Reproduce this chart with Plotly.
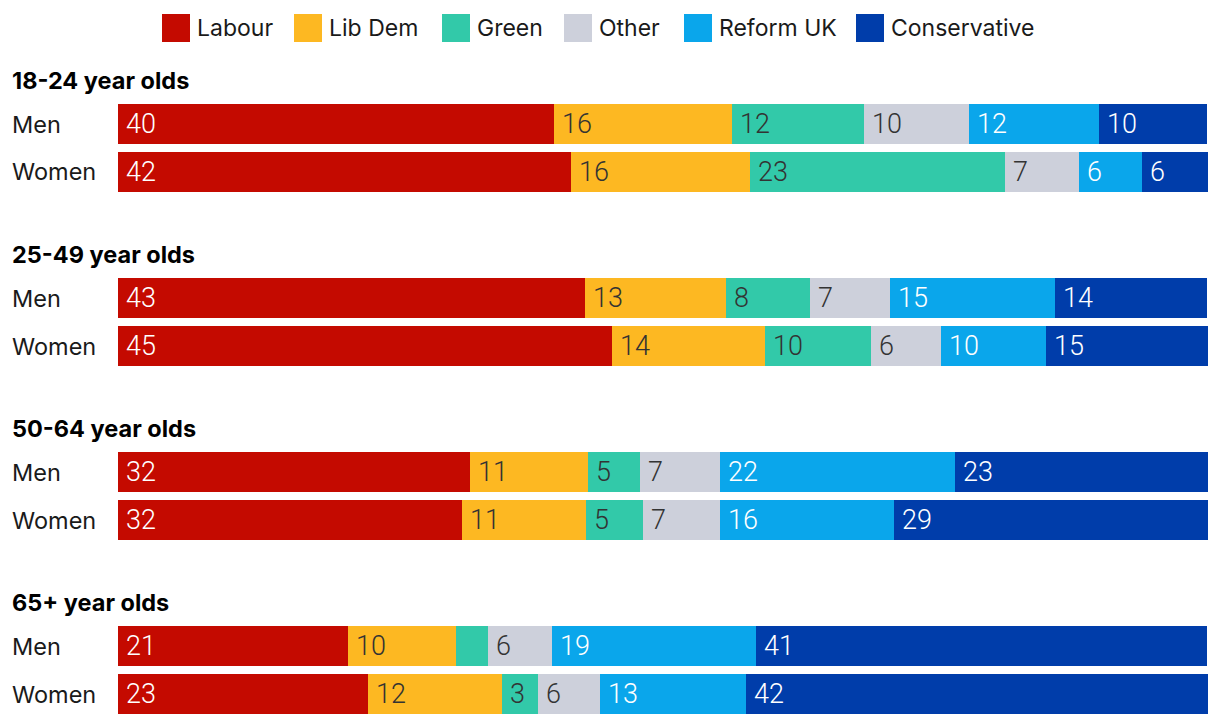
import plotly.graph_objects as go

# ---------------- data ----------------
GROUPS = ["18-24 year olds", "25-49 year olds", "50-64 year olds", "65+ year olds"]
ROWS = ["Men", "Women"]
PARTIES = ["Labour", "Lib Dem", "Green", "Other", "Reform UK", "Conservative"]

# share (%) per row, in order: 18-24 M, 18-24 W, 25-49 M, 25-49 W, 50-64 M, 50-64 W, 65+ M, 65+ W
labour = [40.0, 41.6, 42.8, 45.3, 32.3, 31.6, 21.1, 22.9]
lib_dem = [16.3, 16.4, 13.0, 14.1, 10.8, 11.3, 9.9, 12.3]
green = [12.1, 23.4, 7.7, 9.7, 4.8, 5.3, 2.9, 3.3]
other = [9.7, 6.8, 7.3, 6.4, 7.3, 7.0, 5.9, 5.7]
reform = [11.9, 5.7, 15.2, 9.6, 21.6, 16.0, 18.7, 13.4]
conservative = [9.9, 6.1, 13.9, 14.9, 23.2, 28.8, 41.4, 42.4]

SERIES = [labour, lib_dem, green, other, reform, conservative]
COLORS = ["#C40A00", "#FDB822", "#32C9A9", "#CDD0DB", "#0AA6EB", "#003DAA"]
TEXT_COLORS = ["#FFFFFF", "#333333", "#333333", "#333333", "#FFFFFF", "#FFFFFF"]

# ---------------- layout constants ----------------
OFF = 8  # page body margin offset
W, H = 1220 - OFF, 726 - OFF
ML, MR, MT, MB = 118 - OFF, 12, 104 - OFF, 12
ROW_STEP, GROUP_STEP = 48, 174
Y_TOP, Y_BOTTOM = -20, 590  # axis range in row units (pixel-like)

FONT = "Inter"
NUM_FONT = "Roboto"

ypos = []
for g in range(len(GROUPS)):
    for r in range(len(ROWS)):
        ypos.append(g * GROUP_STEP + r * ROW_STEP)

pw, ph = W - ML - MR, H - MT - MB


def py_paper(yv):
    # row-unit y -> paper fraction
    return (Y_BOTTOM - yv) / (Y_BOTTOM - Y_TOP)


def px_x(p):
    # reference pixel x -> paper
    return (p - OFF - ML) / pw


def px_y(p):
    # reference pixel y -> paper
    return (H - MB - (p - OFF)) / ph


fig = go.Figure()
for name, vals, col in zip(PARTIES, SERIES, COLORS):
    fig.add_trace(go.Bar(
        y=ypos, x=vals, orientation="h", name=name,
        marker=dict(color=col, line=dict(width=0)),
        width=40, showlegend=False, hoverinfo="x+name",
    ))

annotations = []
# value labels inside bars
for i, y in enumerate(ypos):
    start = 0.0
    for s, vals in enumerate(SERIES):
        v = vals[i]
        if v >= 3.0:
            annotations.append(dict(
                x=start, y=y, xref="x", yref="y", text=str(round(v)),
                showarrow=False, xanchor="left", yanchor="middle", xshift=6,
                font=dict(family=NUM_FONT, size=27, color=TEXT_COLORS[s], weight=300),
            ))
        start += v

# row labels and group headers
for i, y in enumerate(ypos):
    annotations.append(dict(
        x=0, y=py_paper(y), xref="paper", yref="paper", text=ROWS[i % 2], showarrow=False,
        xanchor="left", yanchor="middle", xshift=-(ML - 2),
        font=dict(family=FONT, size=23.5, color="#1a1a1a"),
    ))
for g, title in enumerate(GROUPS):
    annotations.append(dict(
        x=0, y=py_paper(g * GROUP_STEP - 44), xref="paper", yref="paper",
        text="<b>%s</b>" % title,
        showarrow=False, xanchor="left", yanchor="middle", xshift=-(ML - 2),
        font=dict(family=FONT, size=23.5, color="#000000", weight=900),
    ))

# custom legend (squares + labels) above the plot
legend_x = [162, 294, 442, 564, 684, 856]
shapes = []
for lx, name, col in zip(legend_x, PARTIES, COLORS):
    shapes.append(dict(
        type="rect", xref="paper", yref="paper",
        x0=px_x(lx), x1=px_x(lx + 28), y0=px_y(42), y1=px_y(14),
        fillcolor=col, line=dict(width=0),
    ))
    annotations.append(dict(
        x=px_x(lx + 33), y=px_y(28), xref="paper", yref="paper", text=name,
        showarrow=False, xanchor="left", yanchor="middle",
        font=dict(family=FONT, size=23, color="#1a1a1a"),
    ))

fig.update_layout(
    barmode="stack",
    width=W, height=H,
    margin=dict(l=ML, r=MR, t=MT, b=MB, pad=0),
    plot_bgcolor="white", paper_bgcolor="white",
    xaxis=dict(range=[0, 100], visible=False, fixedrange=True),
    yaxis=dict(range=[Y_BOTTOM, Y_TOP], visible=False, fixedrange=True),
    annotations=annotations,
    shapes=shapes,
    showlegend=False,
    bargap=0,
)

fig.write_html("out.html")
